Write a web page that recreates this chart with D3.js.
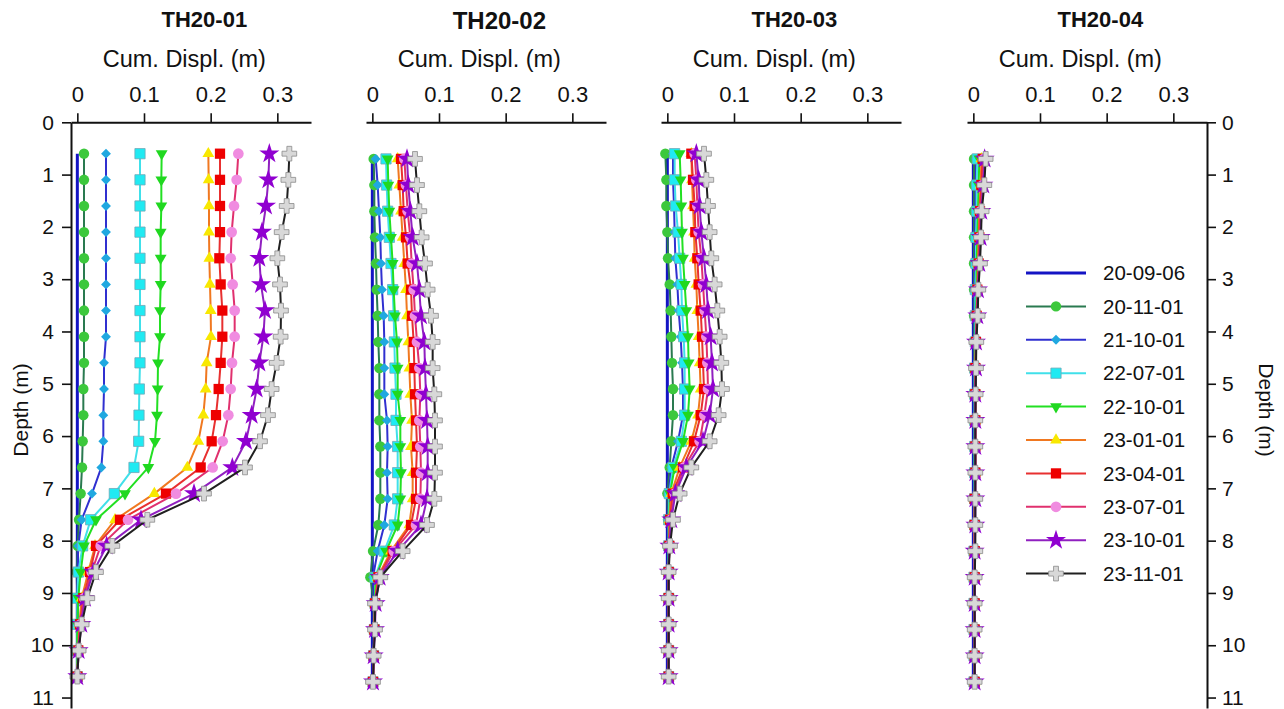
<!DOCTYPE html>
<html><head><meta charset="utf-8">
<script src="https://cdn.jsdelivr.net/npm/d3@7"></script>
<style>
html,body{margin:0;padding:0;background:#fff;}
svg{display:block;font-family:Arial,"Liberation Sans",sans-serif;}
</style></head>
<body>
<script>
// ---------- DATA ----------
const panelTitles = ["TH20-01", "TH20-02", "TH20-03", "TH20-04"];
const seriesNames = ["20-09-06","20-11-01","21-10-01","22-07-01","22-10-01","23-01-01","23-04-01","23-07-01","23-10-01","23-11-01"];
const xTickValues = [0, 0.1, 0.2, 0.3];
const yTickValues = [0,1,2,3,4,5,6,7,8,9,10,11];

const depthsA = [0.6,1.1,1.6,2.1,2.6,3.1,3.6,4.1,4.6,5.1,5.6,6.1,6.6,7.1,7.6,8.1,8.6,9.1,9.6,10.1,10.6];
const depthsB = [0.7,1.2,1.7,2.2,2.7,3.2,3.7,4.2,4.7,5.2,5.7,6.2,6.7,7.2,7.7,8.2,8.7,9.2,9.7,10.2,10.7];

const th01Values = [
  [0,0,0,0,0,0,0,0,0,0,0,0,0,0,0,0,0,0,0,0,0],
  [0.01,0.01,0.01,0.01,0.01,0.01,0.01,0.01,0.01,0.009,0.009,0.008,0.007,0.005,0.0025,0.0005,-0.001,0,0,0,0],
  [0.043,0.043,0.043,0.043,0.043,0.043,0.043,0.043,0.04,0.04,0.039,0.039,0.036,0.022,0.0065,0.0015,0,0,0,0,0],
  [0.094,0.094,0.094,0.094,0.094,0.094,0.094,0.094,0.094,0.093,0.0925,0.092,0.085,0.0555,0.02,0.008,0.0015,0,0,0,0],
  [0.1265,0.126,0.126,0.125,0.125,0.125,0.124,0.124,0.121,0.1205,0.1195,0.1165,0.1065,0.0715,0.028,0.01,0.005,0.0015,0,0,0],
  [0.1965,0.197,0.1975,0.1975,0.198,0.199,0.2,0.2005,0.194,0.1925,0.189,0.1815,0.165,0.1155,0.0565,0.0265,0.0165,0.0065,0.003,0.0015,0],
  [0.214,0.214,0.214,0.214,0.213,0.215,0.2175,0.2175,0.215,0.212,0.208,0.2015,0.185,0.133,0.064,0.028,0.019,0.009,0.004,0.0015,0],
  [0.2415,0.239,0.235,0.2315,0.23,0.233,0.236,0.236,0.232,0.23,0.2265,0.218,0.203,0.148,0.076,0.035,0.0215,0.01,0.005,0.002,0],
  [0.288,0.2865,0.283,0.277,0.273,0.2755,0.2815,0.279,0.273,0.269,0.2615,0.253,0.2325,0.175,0.0955,0.044,0.024,0.0115,0.006,0.002,0],
  [0.318,0.3165,0.314,0.3065,0.3,0.304,0.3055,0.305,0.299,0.2915,0.286,0.274,0.2515,0.19,0.105,0.0525,0.028,0.015,0.0065,0.002,0]
];

const th02Values = [
  [0,0,0,0,0,0,0,0,0,0,0,0,0,0,0,0,0,0,0,0,0],
  [0.002,0.003,0.003,0.004,0.0055,0.0065,0.008,0.009,0.0105,0.0105,0.0105,0.012,0.012,0.012,0.009,0.001,-0.003,0.002,0.002,0.002,0.001],
  [0.005,0.008,0.01,0.012,0.013,0.0145,0.017,0.018,0.018,0.018,0.022,0.023,0.022,0.023,0.018,0.008,0.001,0.003,0.003,0.002,0.001],
  [0.0205,0.0215,0.023,0.0255,0.028,0.0305,0.032,0.033,0.034,0.0355,0.0355,0.038,0.038,0.038,0.033,0.018,0.004,0.004,0.003,0.002,0.001],
  [0.023,0.024,0.0255,0.028,0.0305,0.032,0.034,0.037,0.038,0.038,0.042,0.042,0.043,0.042,0.038,0.0205,0.005,0.004,0.003,0.002,0.001],
  [0.038,0.0405,0.043,0.0455,0.048,0.0505,0.052,0.054,0.0555,0.057,0.0595,0.058,0.0605,0.0605,0.0555,0.028,0.008,0.004,0.003,0.002,0.001],
  [0.043,0.0455,0.047,0.0505,0.053,0.058,0.0595,0.062,0.063,0.064,0.0655,0.067,0.0655,0.0655,0.058,0.0305,0.009,0.004,0.003,0.002,0.001],
  [0.048,0.0505,0.053,0.057,0.059,0.062,0.064,0.067,0.0705,0.072,0.0705,0.072,0.073,0.072,0.0655,0.032,0.01,0.005,0.003,0.002,0.001],
  [0.052,0.054,0.057,0.0605,0.067,0.0705,0.073,0.078,0.079,0.0805,0.082,0.083,0.083,0.082,0.073,0.038,0.011,0.005,0.004,0.002,0.001],
  [0.064,0.067,0.0705,0.074,0.079,0.083,0.088,0.0905,0.0905,0.093,0.094,0.094,0.094,0.093,0.082,0.0455,0.012,0.004,0.004,0.002,0.001]
];

const th03Values = [
  [0,0,0,0,0,0,0,0,0,0,0,0,0,0,0,0,0,0,0,0,0],
  [-0.003,-0.0015,-0.0015,0,0.001,0.0035,0.005,0.006,0.007,0.0085,0.0085,0.006,0.0035,0,0.001,0.002,0.002,0.002,0.002,0.002,0.002],
  [0.0085,0.0085,0.01,0.011,0.012,0.015,0.017,0.02,0.022,0.0235,0.0235,0.016,0.006,0.002,0.002,0.002,0.002,0.002,0.002,0.002,0.002],
  [0.011,0.011,0.0125,0.016,0.0185,0.021,0.022,0.0245,0.026,0.026,0.026,0.021,0.0085,0.003,0.002,0.002,0.002,0.002,0.002,0.002,0.002],
  [0.0185,0.02,0.021,0.022,0.0235,0.026,0.0285,0.031,0.032,0.0335,0.031,0.0235,0.011,0.004,0.003,0.002,0.002,0.002,0.002,0.002,0.002],
  [0.036,0.037,0.0385,0.04,0.041,0.0435,0.045,0.047,0.0485,0.05,0.046,0.036,0.0185,0.006,0.003,0.003,0.002,0.002,0.002,0.002,0.002],
  [0.036,0.0385,0.041,0.042,0.045,0.047,0.05,0.052,0.0535,0.055,0.05,0.04,0.0235,0.008,0.004,0.003,0.002,0.002,0.002,0.002,0.002],
  [0.041,0.0435,0.045,0.047,0.051,0.0535,0.056,0.0585,0.06,0.061,0.0555,0.0485,0.025,0.011,0.005,0.003,0.002,0.002,0.002,0.002,0.002],
  [0.0435,0.047,0.0485,0.051,0.055,0.0585,0.061,0.065,0.067,0.0685,0.0635,0.0535,0.0285,0.012,0.006,0.003,0.002,0.002,0.002,0.002,0.002],
  [0.055,0.0585,0.061,0.0635,0.066,0.071,0.075,0.0785,0.081,0.082,0.077,0.0635,0.036,0.0185,0.0085,0.004,0.002,0.002,0.002,0.002,0.002]
];

const th04Values = [
  [0,0,0,0,0,0,0,0,0,0,0,0,0,0,0,0,0,0,0,0,0],
  [0.001,0.001,0.001,0.001,0.001,0.001,0.001,0.001,0.001,0.001,0.001,0.001,0.001,0.001,0.001,0.001,0.001,0.001,0.001,0.001,0.001],
  [0.004,0.004,0.003,0.003,0.003,0.002,0.002,0.002,0.002,0.002,0.002,0.002,0.001,0.001,0.001,0.001,0.001,0.001,0.001,0.001,0.001],
  [0.006,0.005,0.005,0.004,0.004,0.003,0.003,0.003,0.002,0.002,0.002,0.002,0.002,0.002,0.002,0.001,0.001,0.001,0.001,0.001,0.001],
  [0.009,0.008,0.007,0.006,0.005,0.005,0.004,0.003,0.003,0.003,0.003,0.002,0.002,0.002,0.002,0.002,0.002,0.002,0.002,0.002,0.002],
  [0.012,0.011,0.009,0.008,0.007,0.006,0.005,0.004,0.003,0.003,0.003,0.003,0.003,0.002,0.002,0.002,0.002,0.002,0.002,0.002,0.002],
  [0.014,0.012,0.01,0.009,0.008,0.006,0.005,0.004,0.003,0.003,0.003,0.003,0.003,0.002,0.002,0.002,0.002,0.002,0.002,0.002,0.002],
  [0.016,0.014,0.011,0.01,0.009,0.007,0.006,0.004,0.004,0.003,0.003,0.003,0.003,0.003,0.002,0.002,0.002,0.002,0.002,0.002,0.002],
  [0.017,0.015,0.012,0.011,0.009,0.007,0.006,0.004,0.004,0.003,0.003,0.003,0.003,0.003,0.003,0.002,0.002,0.002,0.002,0.002,0.002],
  [0.0185,0.0165,0.0125,0.0115,0.01,0.0075,0.0065,0.0045,0.004,0.0035,0.003,0.003,0.003,0.003,0.003,0.003,0.002,0.002,0.002,0.002,0.002]
];

const panelValues = [th01Values, th02Values, th03Values, th04Values];
const panelDepths = [depthsA, depthsB, depthsA, depthsB];

// ---------- STYLE ----------
const lineColors   = ["#1414c4","#2a7a50","#3030d0","#40e0ea","#22e022","#f07820","#e83030","#e0306e","#9020c0","#202020"];
const markerFills  = [null,"#3cc83c","#20a8e0","#20eaf2","#20d820","#f8e800","#ee0000","#f08ce0","#9000d0","#d8d8d8"];
const markerStroke = [null,"none","none","#70a8b8","none","none","none","none","none","#8a8a8a"];
const markerTypes  = [null, d3.symbolCircle, d3.symbolDiamond2, d3.symbolSquare, d3.symbolTriangle, d3.symbolTriangle, d3.symbolSquare, d3.symbolCircle, d3.symbolStar, d3.symbolCross];
const markerSizes  = [0, 85, 62, 105, 60, 60, 105, 90, 125, 120];
const markerRotate = [0,0,0,0,180,0,0,0,0,0];
const lineWidths   = [3,2,2,2,2,2,2,2,2,2];

const W = 1284, H = 709;
const panelLeft = [71, 366, 661, 967];
const panelWidth = 240;
const xDomain = [-0.0095, 0.3505];
const yTop = 122.3, yBottom = 708;
const FONT = "Arial, 'Liberation Sans', sans-serif";

const svg = d3.select("body").append("svg").attr("width", W).attr("height", H);
svg.append("rect").attr("width", W).attr("height", H).attr("fill", "#fff");

const y = d3.scaleLinear().domain([0, 11.2]).range([yTop, yBottom]);

function styleAxis(g, fs) {
  g.selectAll("path.domain").attr("stroke", "#111").attr("stroke-width", 2);
  g.selectAll(".tick line").attr("stroke", "#111").attr("stroke-width", 1.6);
  g.selectAll(".tick text").attr("font-size", fs).attr("font-family", FONT).attr("fill", "#111");
}

panelTitles.forEach((title, p) => {
  const x = d3.scaleLinear().domain(xDomain).range([panelLeft[p], panelLeft[p] + panelWidth]);
  const g = svg.append("g");

  // top axis
  const ax = g.append("g").attr("transform", `translate(0,${yTop})`)
    .call(d3.axisTop(x).tickValues(xTickValues).tickSize(9).tickSizeOuter(0).tickPadding(11)
      .tickFormat(d => d === 0 ? "0" : d3.format(".1f")(d)));
  styleAxis(ax, 22);

  // axis title
  g.append("text").attr("x", x(0) + 107).attr("y", 67).attr("text-anchor", "middle")
    .attr("font-size", 23.5).attr("font-family", FONT).attr("fill", "#111").text("Cum. Displ. (m)");
  // panel title
  g.append("text").attr("x", x(0) + 127).attr("y", p === 1 ? 29 : 27).attr("text-anchor", "middle")
    .attr("font-size", p === 1 ? 24 : 22).attr("font-weight", "bold").attr("font-family", FONT)
    .attr("fill", "#111").text(title);

  // series
  const vals = panelValues[p];
  const depths = panelDepths[p];
  seriesNames.forEach((name, s) => {
    const pts = depths.map((d, i) => ({ d: d, v: vals[s][i] }));
    const line = d3.line().x(d => x(d.v)).y(d => y(d.d));
    g.append("path").datum(pts).attr("d", line).attr("fill", "none")
      .attr("stroke", lineColors[s]).attr("stroke-width", lineWidths[s]).attr("stroke-linejoin", "round");
    if (markerTypes[s]) {
      const sym = d3.symbol().type(markerTypes[s]).size(markerSizes[s]);
      g.selectAll(null).data(pts).enter().append("path")
        .attr("d", sym)
        .attr("transform", d => `translate(${x(d.v)},${y(d.d)}) rotate(${markerRotate[s]})`)
        .attr("fill", markerFills[s])
        .attr("stroke", markerStroke[s]).attr("stroke-width", 0.8);
    }
  });
});

// left depth axis
const axL = svg.append("g").attr("transform", `translate(${panelLeft[0]},0)`)
  .call(d3.axisLeft(y).tickValues(yTickValues).tickSize(9).tickSizeOuter(0).tickPadding(8));
styleAxis(axL, 21);
svg.append("text").attr("transform", `translate(28,410) rotate(-90)`).attr("text-anchor", "middle")
  .attr("font-size", 21).attr("font-family", FONT).attr("fill", "#111").text("Depth (m)");

// right depth axis
const rightX = panelLeft[3] + panelWidth;
const axR = svg.append("g").attr("transform", `translate(${rightX},0)`)
  .call(d3.axisRight(y).tickValues(yTickValues).tickSize(9).tickSizeOuter(0).tickPadding(6));
styleAxis(axR, 21);
svg.append("text").attr("transform", `translate(1259,410) rotate(90)`).attr("text-anchor", "middle")
  .attr("font-size", 21).attr("font-family", FONT).attr("fill", "#111").text("Depth (m)");

// legend
const legend = svg.append("g");
seriesNames.forEach((name, s) => {
  const ly = 273 + s * 33.4;
  legend.append("line").attr("x1", 1026).attr("x2", 1086).attr("y1", ly).attr("y2", ly)
    .attr("stroke", lineColors[s]).attr("stroke-width", lineWidths[s]);
  if (markerTypes[s]) {
    legend.append("path").attr("d", d3.symbol().type(markerTypes[s]).size(markerSizes[s])())
      .attr("transform", `translate(1056,${ly}) rotate(${markerRotate[s]})`)
      .attr("fill", markerFills[s]).attr("stroke", markerStroke[s]).attr("stroke-width", 0.8);
  }
  legend.append("text").attr("x", 1103).attr("y", ly).attr("dy", "0.35em")
    .attr("font-size", 20.5).attr("font-family", FONT).attr("fill", "#111").text(name);
});
</script>
</body></html>
